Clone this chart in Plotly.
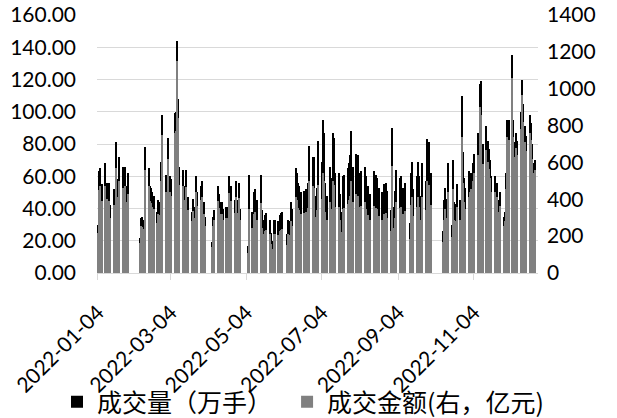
import plotly.graph_objects as go

# Trading days per month (2022)
jan_days = [4,5,6,7,10,11,12,13,14,17,18,19,20,21,24,25,26,27,28]
feb_days = [7,8,9,10,11,14,15,16,17,18,21,22,23,24,25,28]
mar_days = [1,2,3,4,7,8,9,10,11,14,15,16,17,18,21,22,23,24,25,28,29,30,31]
apr_days = [1,6,7,8,11,12,13,14,15,18,19,20,21,22,25,26,27,28,29]
may_days = [5,6,9,10,11,12,13,16,17,18,19,20,23,24,25,26,27,30,31]
jun_days = [1,2,6,7,8,9,10,13,14,15,16,17,20,21,22,23,24,27,28,29,30]
jul_days = [1,4,5,6,7,8,11,12,13,14,15,18,19,20,21,22,25,26,27,28,29]
aug_days = [1,2,3,4,5,8,9,10,11,12,15,16,17,18,19,22,23,24,25,26,29,30,31]
sep_days = [1,2,5,6,7,8,9,13,14,15,16,19,20,21,22,23,26,27,28,29,30]
oct_days = [10,11,12,13,14,17,18,19,20,21,24,25,26,27,28,31]
nov_days = [1,2,3,4,7,8,9,10,11,14,15,16,17,18,21,22,23,24,25,28,29,30]
dec_days = [1,2,5,6,7,8,9,12,13,14,15,16,19,20,21,22,23]

# 成交量（万手） - left axis
jan_vol = [30, 63, 65, 55, 68, 56, 48, 56, 42, 52, 36, 81, 58, 72, 66, 50, 66, 54, 62]
feb_vol = [22, 34, 35, 33, 78, 65, 54, 53, 50, 48, 38, 45, 44, 69, 98, 61]
mar_vol = [46, 84, 60, 58, 99, 100, 144, 108, 66, 64, 54, 64, 41, 47, 38, 46, 41, 60, 50, 54, 57, 41, 44]
apr_vol = [35, 19, 35, 39, 54, 49, 44, 44, 40, 41, 41, 60, 33, 54, 45, 57, 45, 56, 40]
may_vol = [17, 61, 38, 50, 52, 44, 45, 61, 39, 33, 36, 37, 33, 25, 20, 33, 33, 32, 36]
jun_vol = [37, 38, 24, 33, 32, 44, 40, 65, 62, 56, 54, 50, 51, 52, 50, 56, 79, 72, 72, 48, 53]
jul_vol = [82, 69, 95, 87, 56, 48, 66, 59, 87, 84, 62, 62, 49, 38, 60, 61, 65, 68, 73, 88, 66]
aug_vol = [74, 73, 62, 46, 63, 66, 60, 54, 45, 49, 63, 53, 61, 59, 53, 50, 55, 51, 56, 51, 39, 90, 41]
sep_vol = [51, 64, 59, 60, 33, 53, 56, 31, 62, 69, 52, 60, 69, 60, 48, 68, 57, 83, 66, 81, 62]
oct_vol = [26, 45, 53, 46, 68, 30, 70, 44, 43, 55, 45, 110, 75, 59, 53, 63]
nov_vol = [60, 62, 68, 74, 87, 82, 117, 119, 80, 91, 82, 77, 70, 60, 60, 51, 56, 45, 50, 35, 38, 62]
dec_vol = [95, 95, 135, 95, 81, 87, 82, 100, 120, 105, 91, 85, 98, 93, 80, 68, 70]

# 成交金额（亿元） - right axis
jan_amt = [215, 450, 470, 390, 470, 400, 340, 390, 300, 370, 260, 570, 410, 500, 460, 355, 470, 385, 430]
feb_amt = [165, 255, 250, 240, 560, 470, 390, 380, 360, 345, 270, 320, 315, 500, 750, 440]
mar_amt = [340, 620, 440, 420, 760, 770, 1150, 840, 480, 470, 395, 465, 300, 340, 280, 335, 300, 440, 365, 395, 415, 300, 320]
apr_amt = [255, 140, 255, 285, 390, 355, 320, 320, 290, 300, 300, 435, 240, 390, 325, 410, 325, 405, 290]
may_amt = [110, 345, 245, 320, 330, 280, 290, 380, 245, 210, 230, 235, 210, 160, 130, 210, 210, 205, 230]
jun_amt = [235, 240, 150, 210, 205, 280, 255, 410, 395, 355, 340, 320, 325, 330, 320, 355, 500, 470, 460, 305, 340]
jul_amt = [480, 400, 540, 500, 330, 285, 385, 345, 500, 480, 360, 360, 290, 225, 350, 355, 375, 395, 420, 500, 385]
aug_amt = [430, 420, 360, 270, 365, 385, 350, 315, 265, 285, 365, 310, 355, 345, 310, 290, 320, 300, 325, 300, 230, 580, 245]
sep_amt = [300, 385, 355, 360, 200, 320, 335, 185, 370, 410, 310, 360, 415, 360, 290, 410, 340, 500, 395, 480, 370]
oct_amt = [170, 290, 345, 300, 440, 195, 455, 285, 280, 360, 290, 740, 490, 385, 345, 410]
nov_amt = [440, 455, 500, 545, 640, 600, 900, 860, 590, 670, 600, 565, 515, 440, 440, 375, 410, 330, 365, 255, 280, 455]
dec_amt = [740, 720, 1060, 740, 630, 680, 640, 780, 965, 820, 710, 660, 760, 720, 620, 540, 560]

tick_labels = ["2022-01-04", "2022-03-04", "2022-05-04", "2022-07-04", "2022-09-04", "2022-11-04"]
left_ticks = [0, 20, 40, 60, 80, 100, 120, 140, 160]
right_ticks = [0, 200, 400, 600, 800, 1000, 1200, 1400]

months = [jan_days, feb_days, mar_days, apr_days, may_days, jun_days,
          jul_days, aug_days, sep_days, oct_days, nov_days, dec_days]
dates = []
for m, days in enumerate(months, start=1):
    for d in days:
        dates.append(f"2022-{m:02d}-{d:02d}")
volume = (jan_vol + feb_vol + mar_vol + apr_vol + may_vol + jun_vol +
          jul_vol + aug_vol + sep_vol + oct_vol + nov_vol + dec_vol)
amount = (jan_amt + feb_amt + mar_amt + apr_amt + may_amt + jun_amt +
          jul_amt + aug_amt + sep_amt + oct_amt + nov_amt + dec_amt)

DAY = 86400000
num_font = dict(family="Lato, Liberation Sans, sans-serif", size=21, color="#000000")
legend_font = dict(family="Noto Sans CJK SC", size=25, color="#000000")

fig = go.Figure()
fig.add_trace(go.Bar(x=dates, y=volume, name="成交量（万手）", marker_color="#000000",
                     marker_line_width=0, width=DAY * 0.95, yaxis="y", legend="legend"))
fig.add_trace(go.Bar(x=dates, y=amount, name="成交金额(右，亿元)", marker_color="#808080",
                     marker_line_width=0, width=DAY * 0.95, yaxis="y2", legend="legend2"))

fig.update_layout(
    width=617, height=418,
    margin=dict(l=97, r=79, t=15, b=145, autoexpand=False),
    paper_bgcolor="white", plot_bgcolor="white",
    barmode="overlay", bargap=0,
    showlegend=True,
    legend=dict(orientation="h", x=-0.0907, xanchor="left", y=-0.50, yanchor="middle",
                font=legend_font, itemwidth=30, bgcolor="rgba(0,0,0,0)"),
    legend2=dict(orientation="h", x=0.431, xanchor="left", y=-0.50, yanchor="middle",
                 font=legend_font, itemwidth=30, bgcolor="rgba(0,0,0,0)"),
    xaxis=dict(type="date", range=["2022-01-03 06:00", "2022-12-25 18:00"],
               tickvals=tick_labels, ticktext=tick_labels, tickangle=-45,
               ticks="outside", ticklen=6, tickcolor="#d9d9d9",
               showline=True, linecolor="#d9d9d9", linewidth=1,
               showgrid=False, tickfont=num_font, automargin=False,
               ticklabelstandoff=12),
    yaxis=dict(range=[0, 160], tickvals=left_ticks, tickformat=".2f",
               showgrid=True, gridcolor="#d9d9d9", gridwidth=1.3,
               zeroline=False, showline=False, tickfont=num_font,
               ticklabelstandoff=20, automargin=False),
    yaxis2=dict(range=[0, 1400], tickvals=right_ticks, overlaying="y", side="right",
                showgrid=False, zeroline=False, showline=False, tickfont=num_font,
                ticklabelstandoff=8, automargin=False),
)

fig.write_html("out.html", config={"displayModeBar": False},
               post_script="document.body.style.margin='0';document.body.style.padding='0';")
